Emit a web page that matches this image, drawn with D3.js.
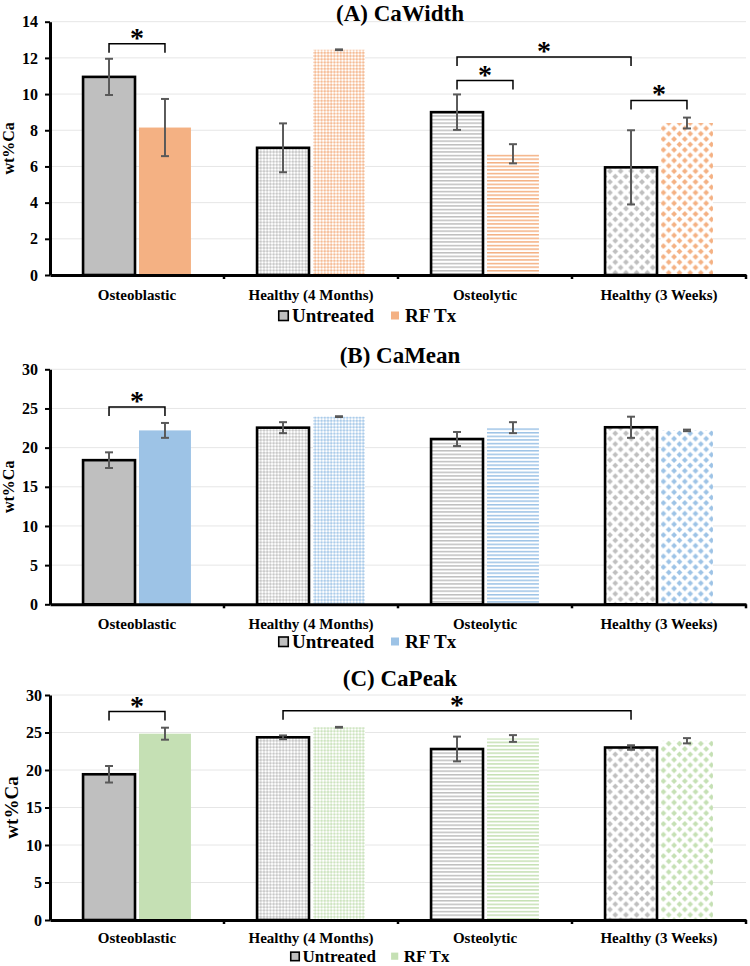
<!DOCTYPE html>
<html>
<head>
<meta charset="utf-8">
<script src="https://cdn.jsdelivr.net/npm/d3@7"></script>
<style>
  body { margin: 0; background: #fff; }
  svg text { font-family: "Liberation Serif", "Times New Roman", serif; font-weight: bold; fill: #000; }
</style>
</head>
<body>
<div id="chart"></div>
<script>
// Categories / series
var groups = ["Osteoblastic", "Healthy (4 Months)", "Osteolytic", "Healthy (3 Weeks)"];
var series = ["Untreated", "RF Tx"];
var titles = ["(A) CaWidth", "(B) CaMean", "(C) CaPeak"];
var yLabel = "wt%Ca";

// (A) CaWidth
var widthUntreated = [10.95, 7.03, 9.0, 5.95];
var widthUntreatedErr = [1.0, 1.35, 0.98, 2.05];
var widthRF = [8.15, 12.45, 6.7, 8.4];
var widthRFErr = [1.58, 0.02, 0.53, 0.3];
var widthTicks = [0, 2, 4, 6, 8, 10, 12, 14];
// significance brackets: [group a, series a, group b, series b, height]
var widthSig = [[0, 0, 0, 1, 12.78], [2, 0, 2, 1, 10.75], [2, 0, 3, 0, 12.05], [3, 0, 3, 1, 9.65]];

// (B) CaMean
var meanUntreated = [18.4, 22.55, 21.1, 22.6];
var meanUntreatedErr = [1.0, 0.7, 0.9, 1.35];
var meanRF = [22.2, 23.96, 22.55, 22.2];
var meanRFErr = [0.95, 0.05, 0.7, 0.1];
var meanTicks = [0, 5, 10, 15, 20, 25, 30];
var meanSig = [[0, 0, 0, 1, 25.2]];

// (C) CaPeak
var peakUntreated = [19.43, 24.36, 22.8, 23.0];
var peakUntreatedErr = [1.1, 0.25, 1.65, 0.3];
var peakRF = [24.84, 25.7, 24.2, 23.9];
var peakRFErr = [0.8, 0.05, 0.45, 0.35];
var peakTicks = [0, 5, 10, 15, 20, 25, 30];
var peakSig = [[0, 0, 0, 1, 27.8], [1, 0, 3, 0, 27.9]];

// Styles
var greyColor = "#bfbfbf";
var rfColors = ["#f4b183", "#9dc3e6", "#c5e0b4"];
var fillKinds = ["solid", "grid", "hlines", "diamond"];

const width = 750, height = 966;
const plotLeft = 50, plotRight = 746;

var svg = d3.select("#chart").append("svg")
  .attr("width", width)
  .attr("height", height);

var defs = svg.append("defs");

function makePatterns(key, color) {
  // small grid
  var s = 3.2;
  var p = defs.append("pattern").attr("id", key + "-grid")
    .attr("patternUnits", "userSpaceOnUse").attr("width", s).attr("height", s);
  p.append("rect").attr("width", s).attr("height", s).attr("fill", "#fff");
  p.append("polygon").attr("points", "1.6,0 3.2,1.6 1.6,3.2 0,1.6").attr("fill", color).attr("opacity", 0.85);

  // horizontal lines
  var h = 3.6;
  p = defs.append("pattern").attr("id", key + "-hlines")
    .attr("patternUnits", "userSpaceOnUse").attr("width", 8).attr("height", h);
  p.append("rect").attr("width", 8).attr("height", h).attr("fill", "#fff");
  p.append("rect").attr("width", 8).attr("height", 1.5).attr("fill", color);

  // diamonds
  var d = 10.7, r = 2.9;
  p = defs.append("pattern").attr("id", key + "-diamond")
    .attr("patternUnits", "userSpaceOnUse").attr("width", d).attr("height", d);
  p.append("rect").attr("width", d).attr("height", d).attr("fill", "#fff");
  [[d / 2, d / 2], [0, 0], [d, 0], [0, d], [d, d]].forEach(function (c) {
    p.append("polygon")
      .attr("points", [[c[0], c[1] - r], [c[0] + r, c[1]], [c[0], c[1] + r], [c[0] - r, c[1]]].map(function (q) { return q.join(","); }).join(" "))
      .attr("fill", color);
  });
}

makePatterns("grey", greyColor);
rfColors.forEach(function (c, i) { makePatterns("rf" + i, c); });

function fillFor(key, color, gi) {
  if (fillKinds[gi] == "solid") return color;
  return "url(#" + key + "-" + fillKinds[gi] + ")";
}

var panels = [
  { title: titles[0], untreated: widthUntreated, untreatedErr: widthUntreatedErr, rf: widthRF, rfErr: widthRFErr,
    ticks: widthTicks, sig: widthSig, color: 0,
    top: 21.7, bottom: 275, titleY: 21, legendY: 322, legendX: 278, legendSize: 19, catPad: 14,
    tickPad: 7, labelSize: 16, labelX: 14 },
  { title: titles[1], untreated: meanUntreated, untreatedErr: meanUntreatedErr, rf: meanRF, rfErr: meanRFErr,
    ticks: meanTicks, sig: meanSig, color: 1,
    top: 369.3, bottom: 604.3, titleY: 363, legendY: 648, legendX: 278, legendSize: 19, catPad: 14,
    tickPad: 7, labelSize: 16, labelX: 14 },
  { title: titles[2], untreated: peakUntreated, untreatedErr: peakUntreatedErr, rf: peakRF, rfErr: peakRFErr,
    ticks: peakTicks, sig: peakSig, color: 2,
    top: 695, bottom: 920, titleY: 686, legendY: 962, legendX: 290, legendSize: 17, catPad: 12,
    tickPad: 3, labelSize: 19, labelX: 18 }
];

panels.forEach(drawPanel);

function drawPanel(cfg) {
  var g = svg.append("g");
  var rfColor = rfColors[cfg.color];
  var rfKey = "rf" + cfg.color;

  var y = d3.scaleLinear()
    .domain([0, d3.max(cfg.ticks)])
    .range([cfg.bottom, cfg.top]);

  var x0 = d3.scaleBand().domain(groups).range([plotLeft, plotRight]);
  var bw = x0.bandwidth();
  var x1 = d3.scaleBand().domain(series)
    .range([bw * 0.19, bw * 0.81])
    .paddingInner(4 / 56);

  // Gridlines
  g.selectAll(".grid")
    .data(cfg.ticks.filter(function (t) { return t > 0; }))
    .enter().append("line")
    .attr("x1", plotLeft).attr("x2", plotRight)
    .attr("y1", function (d) { return y(d); })
    .attr("y2", function (d) { return y(d); })
    .attr("stroke", "#e6e6e6")
    .attr("stroke-width", 1);

  // Title
  g.append("text")
    .attr("x", 400)
    .attr("y", cfg.titleY)
    .attr("text-anchor", "middle")
    .style("font-size", "23px")
    .text(cfg.title);

  // Bars
  var bars = [];
  groups.forEach(function (name, gi) {
    bars.push({ g: name, gi: gi, s: series[0], v: cfg.untreated[gi], e: cfg.untreatedErr[gi] });
    bars.push({ g: name, gi: gi, s: series[1], v: cfg.rf[gi], e: cfg.rfErr[gi] });
  });

  g.selectAll(".bar")
    .data(bars)
    .enter().append("rect")
    .attr("x", function (d) { return x0(d.g) + x1(d.s); })
    .attr("y", function (d) { return y(d.v); })
    .attr("width", x1.bandwidth())
    .attr("height", function (d) { return y(0) - y(d.v); })
    .attr("fill", function (d) {
      return d.s == series[0] ? fillFor("grey", greyColor, d.gi) : fillFor(rfKey, rfColor, d.gi);
    })
    .attr("stroke", function (d) { return d.s == series[0] ? "#000" : "none"; })
    .attr("stroke-width", 2.6);

  // Error bars
  var eb = g.selectAll(".err")
    .data(bars)
    .enter().append("g")
    .attr("stroke", "#595959")
    .attr("stroke-width", 2);
  eb.append("line")
    .attr("x1", function (d) { return x0(d.g) + x1(d.s) + x1.bandwidth() / 2; })
    .attr("x2", function (d) { return x0(d.g) + x1(d.s) + x1.bandwidth() / 2; })
    .attr("y1", function (d) { return y(d.v - d.e); })
    .attr("y2", function (d) { return y(d.v + d.e); });
  [-1, 1].forEach(function (sign) {
    eb.append("line")
      .attr("x1", function (d) { return x0(d.g) + x1(d.s) + x1.bandwidth() / 2 - 4; })
      .attr("x2", function (d) { return x0(d.g) + x1(d.s) + x1.bandwidth() / 2 + 4; })
      .attr("y1", function (d) { return y(d.v + sign * d.e); })
      .attr("y2", function (d) { return y(d.v + sign * d.e); });
  });

  // Y axis
  var yAxis = d3.axisLeft(y).tickValues(cfg.ticks).tickSize(5).tickSizeOuter(0).tickPadding(cfg.tickPad);
  var ya = g.append("g")
    .attr("transform", "translate(" + plotLeft + ",0)")
    .call(yAxis);
  ya.select(".domain").attr("stroke", "#000").attr("stroke-width", 3);
  ya.selectAll(".tick line").attr("stroke", "#000").attr("stroke-width", 2);
  ya.selectAll(".tick text").style("font-size", "16px");

  // X axis
  var xAxis = d3.axisBottom(x0).tickSize(0).tickPadding(cfg.catPad);
  var xa = g.append("g")
    .attr("transform", "translate(0," + y(0) + ")")
    .call(xAxis);
  xa.select(".domain").attr("stroke", "#000").attr("stroke-width", 3);
  xa.selectAll(".tick text").style("font-size", "15px");

  // boundary ticks between categories
  g.selectAll(".bt")
    .data(groups)
    .enter().append("line")
    .attr("x1", function (d) { return x0(d) + bw; })
    .attr("x2", function (d) { return x0(d) + bw; })
    .attr("y1", y(0))
    .attr("y2", y(0) + 4)
    .attr("stroke", "#000")
    .attr("stroke-width", 2.5);

  // Y label
  g.append("text")
    .attr("transform", "translate(" + cfg.labelX + "," + ((cfg.top + cfg.bottom) / 2) + ") rotate(-90)")
    .attr("text-anchor", "middle")
    .style("font-size", cfg.labelSize + "px")
    .text(yLabel);

  // Significance brackets
  function barCenter(gi, si) {
    return x0(groups[gi]) + x1(series[si]) + x1.bandwidth() / 2;
  }
  cfg.sig.forEach(function (b) {
    var xa1 = barCenter(b[0], b[1]);
    var xb1 = barCenter(b[2], b[3]);
    var yy = y(b[4]);
    g.append("path")
      .attr("d", "M" + xa1 + "," + (yy + 9) + "V" + yy + "H" + xb1 + "V" + (yy + 9))
      .attr("fill", "none")
      .attr("stroke", "#000")
      .attr("stroke-width", 1.5);
    g.append("text")
      .attr("x", (xa1 + xb1) / 2)
      .attr("y", yy + 3)
      .attr("text-anchor", "middle")
      .style("font-size", "28px")
      .text("*");
  });

  // Legend
  var k = cfg.legendSize / 19;
  var lg = g.append("g").attr("transform", "translate(" + cfg.legendX + "," + cfg.legendY + ")");
  lg.append("rect")
    .attr("x", 0.75).attr("y", -11 * k)
    .attr("width", 9.5 * k).attr("height", 9.5 * k)
    .attr("fill", greyColor)
    .attr("stroke", "#000")
    .attr("stroke-width", 1.6);
  lg.append("text")
    .attr("x", 14 * k)
    .style("font-size", cfg.legendSize + "px")
    .text(series[0]);
  lg.append("rect")
    .attr("x", 113 * k).attr("y", -10.5 * k)
    .attr("width", 8 * k).attr("height", 8 * k)
    .attr("fill", rfColor);
  lg.append("text")
    .attr("x", 127 * k)
    .style("font-size", cfg.legendSize + "px")
    .text(series[1]);
}
</script>
</body>
</html>
